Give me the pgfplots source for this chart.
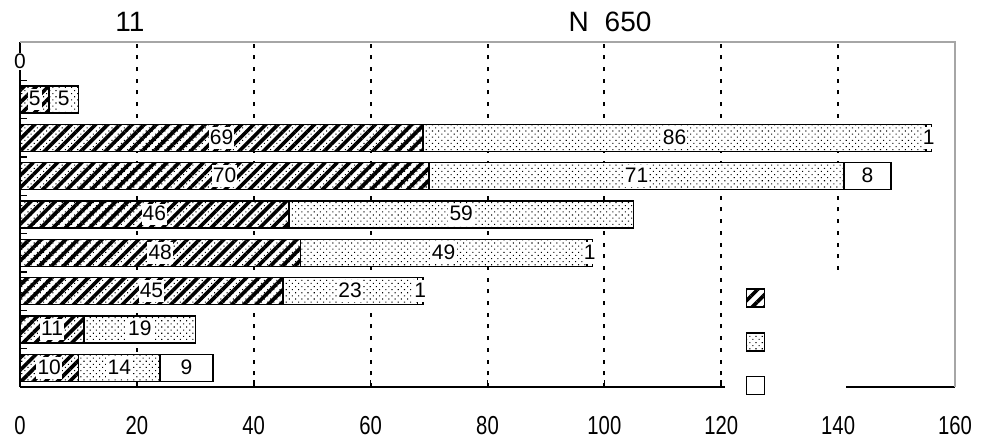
\documentclass[border=0pt]{standalone}
\usepackage{fontspec}
\setmainfont{Liberation Sans}
\newfontfamily\narrowfont[FakeStretch=0.78]{Liberation Sans}
\usepackage{pgfplots}
\pgfplotsset{compat=1.18}
\usepackage{pgfplotstable}
\usetikzlibrary{patterns.meta}

\pgfplotstableread{
y a b c
8 0 0 0
7 5 5 0
6 69 86 1
5 70 71 8
4 46 59 0
3 48 49 1
2 45 23 1
1 11 19 0
0 10 14 9
}\datatable

\tikzset{
  hatchA/.style={pattern={Lines[angle=45,distance=4.3pt,line width=1.8pt]}},
  dotB/.style={pattern={Dots[angle=45,distance=2.2pt,radius=0.38pt]}},
}
\newcommand{\lblfont}{\fontsize{10.5}{11}\selectfont}
\setlength{\fboxsep}{0.6pt}

\begin{document}
\begin{tikzpicture}[x=1pt,y=1pt]
\begin{axis}[
  scale only axis, width=467.5pt, height=172.5pt,
  xmin=0, xmax=160, ymin=-0.5, ymax=8.5,
  xtick={0,20,...,160},
  ytick={-0.5,0.5,...,8.5}, yticklabels={},
  tick align=inside, major tick length=3.5pt,
  tick style={black, line width=0.8pt},
  axis x line*=bottom, axis y line*=left,
  axis line style={-, black, line width=1pt},
  xmajorgrids, grid style={black, line width=1pt, dash pattern=on 2pt off 3.85pt},
  /pgf/number format/assume math mode=true,
  x tick label style={font=\narrowfont\fontsize{13}{13}\selectfont, yshift=-11pt},
  clip=false,
  lbl/.style={draw=none, mark=none, point meta=explicit, forget plot,
     nodes near coords={\pgfmathfloatifflags{\pgfplotspointmeta}{0}{}{\colorbox{white}{\rule[-1.5pt]{0pt}{9.5pt}\pgfmathprintnumber{\pgfplotspointmeta}}}},
     every node near coord/.append style={anchor=center, inner sep=0pt, font=\lblfont}},
  barstyle/.style={xbar, bar width=13.5pt, bar shift=0pt, draw=black, line width=0.8pt},
  legend image code/.code={\draw[#1, line width=0.8pt] (0pt,-4.5pt) rectangle (9pt,4.5pt);},
  legend style={at={(axis cs:124.1,2.08)}, anchor=north west, draw=none, fill=none,
     inner sep=0pt, row sep=12pt, nodes={inner sep=0pt}},
]
\coordinate (O) at (rel axis cs:0,0);
% cumulative bars drawn back to front
\addplot[barstyle, fill=white, forget plot] table[x expr=\thisrow{a}+\thisrow{b}+\thisrow{c}, y=y] {\datatable};
\addplot[barstyle, dotB, forget plot] table[x expr=\thisrow{a}+\thisrow{b}, y=y] {\datatable};
\addplot[barstyle, hatchA, forget plot] table[x=a, y=y] {\datatable};
% segment labels at segment centres
\addplot[lbl] table[x expr=\thisrow{a}/2, y=y, meta=a] {\datatable};
\addplot[lbl] table[x expr=\thisrow{a}+\thisrow{b}/2, y=y, meta=b] {\datatable};
\addplot[lbl] table[x expr=\thisrow{a}+\thisrow{b}+\thisrow{c}/2, y=y, meta=c] {\datatable};
\draw[gray!70, line width=1pt] (rel axis cs:0,1) -- (rel axis cs:1,1) -- (rel axis cs:1,0);
\fill[white] (axis cs:120.6,2.5) rectangle (axis cs:141.3,-0.71);
\node[fill=white, inner sep=0.6pt, font=\lblfont] at (axis cs:0,8) {0};
\addlegendimage{draw=black, hatchA}
\addlegendentry{}
\addlegendimage{draw=black, dotB}
\addlegendentry{}
\addlegendimage{draw=black, fill=white}
\addlegendentry{}
\end{axis}
\pgfresetboundingbox
\path[use as bounding box] ([shift={(-10pt,-26pt)}]O) rectangle ([shift={(491pt,193.5pt)}]O);
\node[font=\fontsize{14}{14}\selectfont] at ([shift={(55pt,182.5pt)}]O) {11};
\node[font=\fontsize{14}{14}\selectfont] at ([shift={(295pt,182.5pt)}]O) {N\hspace{8pt}650};
\end{tikzpicture}
\end{document}
